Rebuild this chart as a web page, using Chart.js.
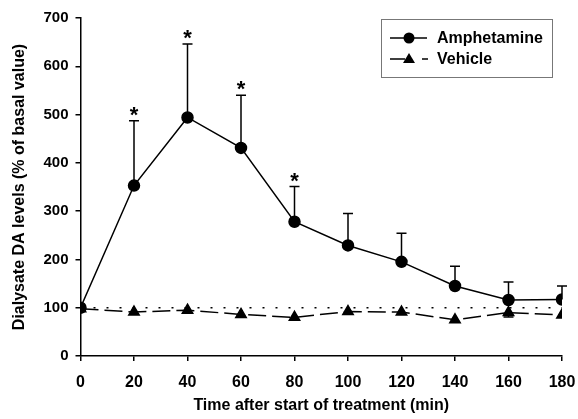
<!DOCTYPE html>
<html><head><meta charset="utf-8">
<script src="https://cdn.jsdelivr.net/npm/chart.js@4/dist/chart.umd.min.js"></script>
<style>html,body{margin:0;padding:0;background:#fff}#wrap{width:578px;height:419px}</style>
</head><body><div id="wrap"><canvas id="c" width="578" height="419"></canvas></div>
<script>
const times = [0, 20, 40, 60, 80, 100, 120, 140, 160, 180];
const amphetamine = [100, 353, 494, 431, 278, 229, 195, 145, 116, 117];
const amphetamineSem = [0, 134, 152, 109, 73, 66, 59, 41, 37, 28];
const vehicle = [98, 91, 95, 86, 80, 92, 91, 75, 90, 85];
const vehicleSem = [0, 0, 0, 0, 0, 0, 0, 0, 9, 0];
const significant = [false, true, true, true, true, false, false, false, false, false];
const baseline = 100;
const yTicks = [0, 100, 200, 300, 400, 500, 600, 700];
const xTicks = [0, 20, 40, 60, 80, 100, 120, 140, 160, 180];

const FONT = 'Liberation Sans, Arial, Helvetica, sans-serif';

const errPlugin = {
  id: 'errs',
  afterDatasetsDraw(chart) {
    const ctx = chart.ctx, xs = chart.scales.x, ys = chart.scales.y;
    ctx.save();
    ctx.strokeStyle = '#000'; ctx.lineWidth = 1.5;
    times.forEach((t, i) => {
      const x = xs.getPixelForValue(t);
      if (amphetamineSem[i] > 0) {
        const y0 = ys.getPixelForValue(amphetamine[i]);
        const y1 = ys.getPixelForValue(amphetamine[i] + amphetamineSem[i]);
        ctx.beginPath(); ctx.moveTo(x, y0); ctx.lineTo(x, y1);
        ctx.moveTo(x - 5, y1); ctx.lineTo(x + 5, y1); ctx.stroke();
        if (significant[i]) {
          ctx.fillStyle = '#000';
          ctx.font = 'bold 22px ' + FONT;
          ctx.textAlign = 'center'; ctx.textBaseline = 'alphabetic';
          ctx.fillText('*', x, y1 + 1);
        }
      }
      if (vehicleSem[i] > 0) {
        const yA = ys.getPixelForValue(vehicle[i] + vehicleSem[i]);
        const yB = ys.getPixelForValue(vehicle[i] - vehicleSem[i]);
        ctx.beginPath(); ctx.moveTo(x, yA); ctx.lineTo(x, yB);
        ctx.moveTo(x - 5, yB); ctx.lineTo(x + 5, yB); ctx.stroke();
      }
    });
    // legend
    const L = 381, T = 19, R = 552, B = 77;
    ctx.strokeStyle = '#777'; ctx.lineWidth = 1;
    ctx.strokeRect(L + 0.5, T + 0.5, R - L, B - T);
    ctx.strokeStyle = '#000'; ctx.fillStyle = '#000'; ctx.lineWidth = 1.5;
    const y1 = 38, y2 = 59;
    ctx.beginPath(); ctx.moveTo(390, y1); ctx.lineTo(427, y1); ctx.stroke();
    ctx.beginPath(); ctx.arc(409, y1, 5.5, 0, Math.PI * 2); ctx.fill();
    ctx.beginPath(); ctx.moveTo(390, y2); ctx.lineTo(405, y2); ctx.moveTo(422, y2); ctx.lineTo(428, y2); ctx.stroke();
    ctx.beginPath(); ctx.moveTo(409, y2 - 6); ctx.lineTo(415, y2 + 4); ctx.lineTo(403, y2 + 4); ctx.closePath(); ctx.fill();
    ctx.font = 'bold 16px ' + FONT; ctx.textAlign = 'left'; ctx.textBaseline = 'middle';
    ctx.fillText('Amphetamine', 437, y1 + 1);
    ctx.fillText('Vehicle', 437, y2 + 1);
    ctx.restore();
  }
};

new Chart(document.getElementById('c'), {
  type: 'line',
  data: {
    datasets: [
      { label: 'Baseline', data: [{x: 0, y: baseline}, {x: 180, y: baseline}], borderColor: '#000', borderWidth: 1.5, borderDash: [2, 11], pointRadius: 0, order: 3 },
      { label: 'Vehicle', data: times.map((t, i) => ({x: t, y: vehicle[i]})), borderColor: '#000', backgroundColor: '#000', borderWidth: 1.5, borderDash: [18, 6], pointStyle: 'triangle', pointRadius: 6, order: 2 },
      { label: 'Amphetamine', data: times.map((t, i) => ({x: t, y: amphetamine[i]})), borderColor: '#000', backgroundColor: '#000', borderWidth: 1.5, pointStyle: 'circle', pointRadius: 5.5, order: 1 }
    ]
  },
  options: {
    responsive: false, animation: false,
    layout: { padding: { left: 10, right: 16, top: 18, bottom: 4 } },
    plugins: { legend: { display: false }, tooltip: { enabled: false } },
    scales: {
      x: {
        type: 'linear', min: 0, max: 180,
        afterBuildTicks: s => { s.ticks = xTicks.map(v => ({value: v})); },
        afterFit: s => { s.height = 59; s.paddingLeft = 0; s.paddingRight = 0; },
        grid: { drawOnChartArea: false, drawTicks: true, tickLength: 5, color: '#000', lineWidth: 1.5 },
        border: { display: true, color: '#000', width: 1.5 },
        ticks: { color: '#000', font: { family: FONT, size: 16, weight: 'bold' }, padding: 12, maxRotation: 0 },
        title: { display: true, text: 'Time after start of treatment (min)', color: '#000', font: { family: FONT, size: 16, weight: 'bold' }, padding: { top: 4, bottom: 0 } }
      },
      y: {
        min: 0, max: 700,
        afterBuildTicks: s => { s.ticks = yTicks.map(v => ({value: v})); },
        afterFit: s => { s.width = 70.5; s.paddingTop = 0; s.paddingBottom = 0; },
        grid: { drawOnChartArea: false, drawTicks: true, tickLength: 5, color: '#000', lineWidth: 1.5 },
        border: { display: true, color: '#000', width: 1.5 },
        ticks: { color: '#000', font: { family: FONT, size: 15, weight: 'bold' }, padding: 7 },
        title: { display: true, text: 'Dialysate DA levels (% of basal value)', color: '#000', font: { family: FONT, size: 16, weight: 'bold' }, padding: { top: 0, bottom: 4 } }
      }
    }
  },
  plugins: [errPlugin]
});
</script></body></html>
